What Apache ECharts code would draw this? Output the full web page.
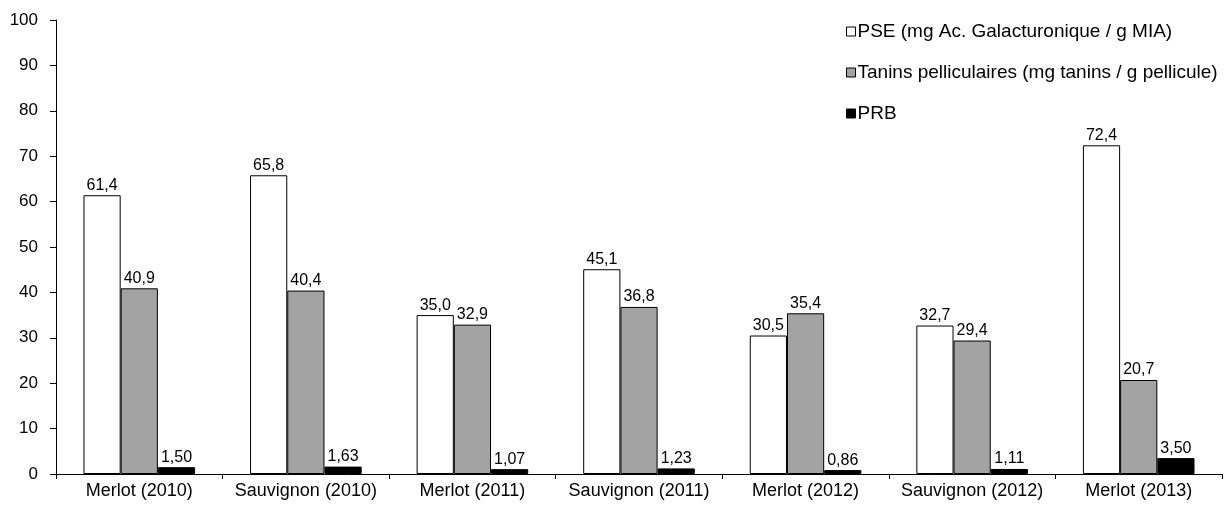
<!DOCTYPE html>
<html><head><meta charset="utf-8">
<script src="https://cdn.jsdelivr.net/npm/echarts@6/dist/echarts.min.js"></script>
<style>html,body{margin:0;padding:0;background:#fff}#c{width:1225px;height:510px}</style>
</head><body><div id="c"></div>
<script>
var categories = ["Merlot (2010)","Sauvignon (2010)","Merlot (2011)","Sauvignon (2011)","Merlot (2012)","Sauvignon (2012)","Merlot (2013)"];
var pse = [61.4, 65.8, 35.0, 45.1, 30.5, 32.7, 72.4];
var tanins = [40.9, 40.4, 32.9, 36.8, 35.4, 29.4, 20.7];
var prb = [1.50, 1.63, 1.07, 1.23, 0.86, 1.11, 3.50];
var seriesNames = ["PSE (mg Ac. Galacturonique / g MIA)", "Tanins pelliculaires (mg tanins / g pellicule)", "PRB"];
var yTicks = [0,10,20,30,40,50,60,70,80,90,100];

var font = "Liberation Sans, Arial, sans-serif";
function fmt(d){ return function(p){ return p.value.toFixed(d).replace('.', ','); }; }
var chart = echarts.init(document.getElementById('c'), null, {renderer:'canvas'});
function mk(name, data, color, dec){
  return {
    name: name, type: 'bar', data: data, barGap: '0%', barCategoryGap: '33%',
    itemStyle: {color: color, borderColor: '#000', borderWidth: 1},
    label: {show: true, position: 'top', distance: 2, color: '#000', fontSize: 16, fontFamily: font, formatter: fmt(dec)},
    animation: false
  };
}
chart.setOption({
  animation: false,
  textStyle: {fontFamily: font},
  grid: {left: 56, right: 3, top: 20, bottom: 36, containLabel: false},
  legend: {
    orient: 'vertical', left: 841, top: 17, itemGap: 22, itemWidth: 9, itemHeight: 9,
    icon: 'rect',
    itemStyle: {borderColor: '#000', borderWidth: 1},
    textStyle: {fontSize: 19, lineHeight: 19, color: '#000', fontFamily: font, padding: [0,0,0,-3]},
    data: seriesNames
  },
  xAxis: {
    type: 'category', data: categories,
    axisLine: {lineStyle: {color: '#000', width: 1}},
    axisTick: {show: true, alignWithLabel: false, length: 5, lineStyle: {color: '#000'}},
    axisLabel: {color: '#000', fontSize: 18, fontFamily: font, margin: 8, interval: 0}
  },
  yAxis: {
    type: 'value', min: 0, max: 100, interval: 10,
    axisLine: {show: true, lineStyle: {color: '#000'}},
    axisTick: {show: true, length: 6, lineStyle: {color: '#000'}},
    splitLine: {show: false},
    axisLabel: {color: '#000', fontSize: 17, fontFamily: font, margin: 18,
      formatter: function(v){ return yTicks.indexOf(v) >= 0 ? String(v) : ''; }}
  },
  series: [
    mk(seriesNames[0], pse, '#ffffff', 1),
    mk(seriesNames[1], tanins, '#a3a3a3', 1),
    mk(seriesNames[2], prb, '#000000', 2)
  ]
});
</script></body></html>
